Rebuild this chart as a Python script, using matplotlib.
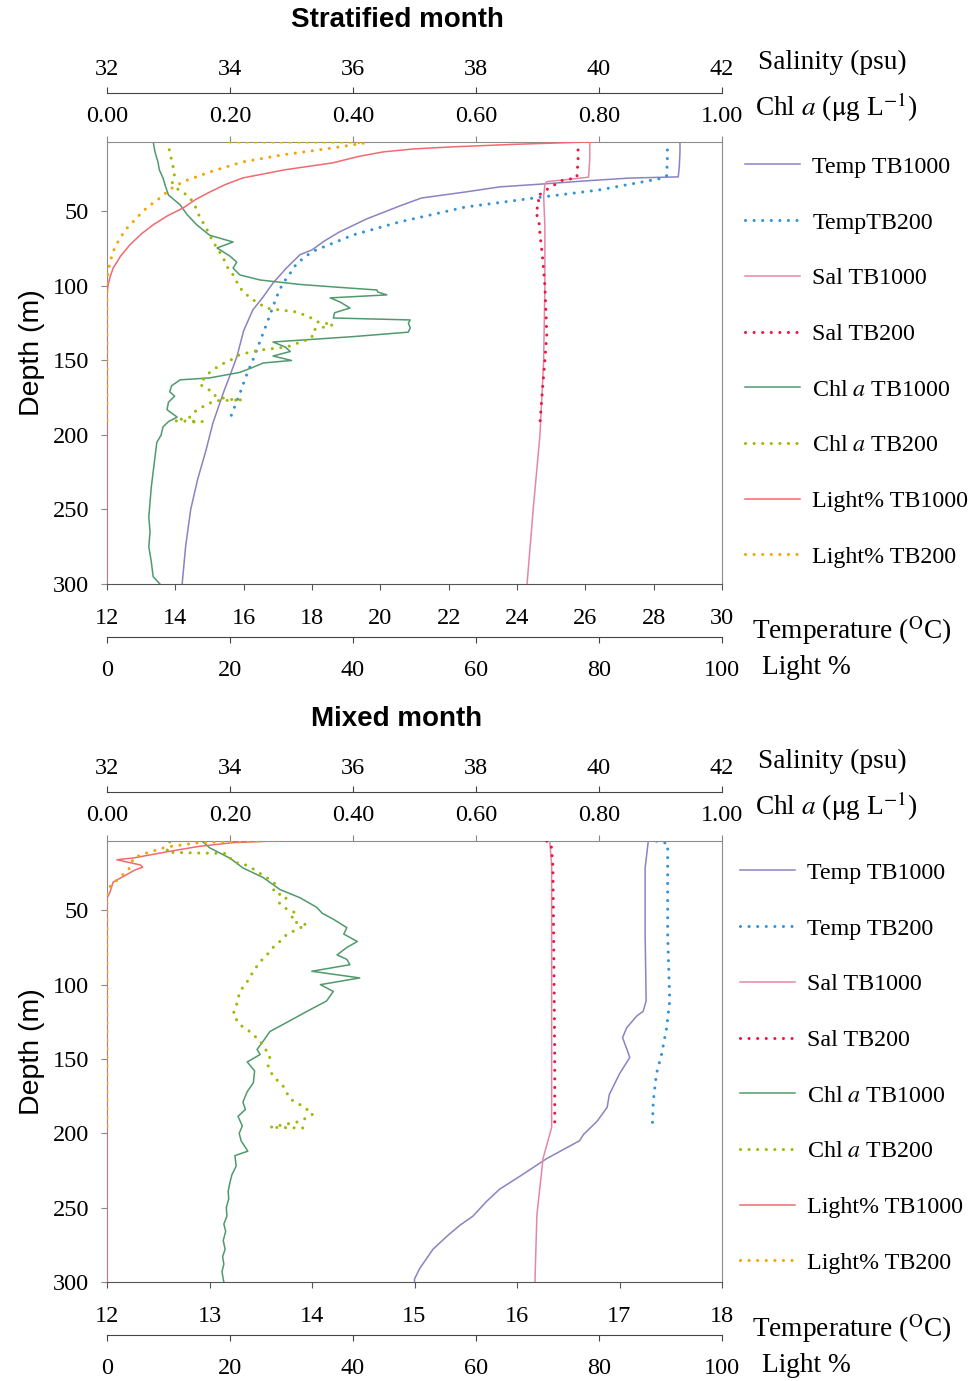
import matplotlib
matplotlib.use("Agg")
import matplotlib.pyplot as plt

plt.rcParams['font.family'] = ['Liberation Serif', 'DejaVu Serif']
plt.rcParams['mathtext.fontset'] = 'stix'

# ---------------- Stratified month data ----------------
s_temp1000_depth = [3, 10, 20, 26.8, 27.6, 29.5, 31.5, 33.5, 36.9, 41, 46.3, 55, 63.8, 70, 75.8, 79, 88, 98, 108, 116, 130, 147.6, 160, 172, 182, 192, 210, 230, 250, 275, 300]
s_temp1000 = [28.77, 28.77, 28.75, 28.72, 27.3, 26.0, 24.8, 23.5, 22.5, 21.2, 20.57, 19.6, 18.8, 18.35, 18.0, 17.65, 17.25, 16.86, 16.55, 16.27, 16.0, 15.8, 15.6, 15.4, 15.25, 15.1, 14.9, 14.65, 14.45, 14.3, 14.2]

s_temp200_depth = [3, 15, 26, 27.5, 35.6, 41, 47, 57, 65.8, 77, 85, 94.6, 98, 108, 119.5, 125, 137, 149.7, 160, 172, 182, 192]
s_temp200 = [28.4, 28.4, 28.38, 28.3, 26.4, 24.5, 22.5, 20.57, 19.2, 18.0, 17.55, 17.27, 17.15, 16.95, 16.77, 16.68, 16.48, 16.27, 16.08, 15.89, 15.72, 15.55]

s_sal1000_depth = [3, 15, 27, 28.5, 30, 32, 40, 60, 100, 150, 200, 250, 300]
s_sal1000 = [39.85, 39.85, 39.83, 39.5, 39.15, 39.12, 39.1, 39.12, 39.12, 39.1, 39.04, 38.93, 38.83]

s_sal200_depth = [3, 15, 27.5, 29, 34, 40, 45, 50, 55, 65, 80, 100, 120, 133, 150, 170, 192]
s_sal200 = [39.66, 39.66, 39.64, 39.41, 39.2, 38.99, 39.04, 38.96, 39.02, 39.04, 39.08, 39.12, 39.14, 39.15, 39.12, 39.08, 39.04]

s_chl1000_depth = [3, 10, 17, 22, 27.5, 33, 39, 45.6, 52, 59, 66, 70.5, 74.5, 80, 84, 88, 92.6, 96, 99, 101, 102.7, 104, 106, 108, 111, 114.8, 118, 121.5, 122.8, 125, 128, 131, 134, 137.6, 141, 144, 147, 150, 151.7, 155, 158, 161.7, 163, 167, 171, 174, 178, 183, 188, 191, 194.6, 200, 205, 215, 225, 235, 245, 255, 265, 275, 285, 295, 300]
s_chl1000 = [0.075, 0.078, 0.083, 0.085, 0.091, 0.095, 0.10, 0.119, 0.13, 0.146, 0.167, 0.205, 0.179, 0.20, 0.211, 0.205, 0.216, 0.249, 0.314, 0.38, 0.439, 0.44, 0.455, 0.363, 0.38, 0.395, 0.37, 0.368, 0.493, 0.49, 0.493, 0.49, 0.40, 0.27, 0.29, 0.298, 0.27, 0.3, 0.254, 0.235, 0.216, 0.167, 0.119, 0.105, 0.102, 0.11, 0.10, 0.0976, 0.114, 0.10, 0.091, 0.088, 0.081, 0.078, 0.075, 0.072, 0.07, 0.068, 0.07, 0.068, 0.072, 0.075, 0.086]

s_chl200_depth = [3, 10, 19, 25, 30, 35, 39, 43.6, 48, 54, 60, 66, 72, 81, 87, 92.6, 98, 104, 110, 115, 117.5, 121, 124, 126, 129.5, 135, 141, 143, 146, 150, 153, 158, 162, 166, 170, 173, 176, 176.5, 177, 181, 185, 188, 190.5, 191, 191.5]
s_chl200 = [0.098, 0.102, 0.107, 0.11, 0.105, 0.115, 0.13, 0.14, 0.145, 0.151, 0.16, 0.167, 0.175, 0.189, 0.195, 0.205, 0.212, 0.221, 0.24, 0.26, 0.309, 0.33, 0.341, 0.368, 0.335, 0.333, 0.292, 0.249, 0.216, 0.2, 0.184, 0.167, 0.158, 0.151, 0.167, 0.172, 0.195, 0.22, 0.175, 0.156, 0.14, 0.135, 0.11, 0.155, 0.13]

s_light1000_depth = [3.3, 5, 6.7, 8, 10, 13, 17.4, 22, 27.5, 32, 37, 42, 47.6, 53, 59, 65, 72.5, 80, 88, 94, 99, 105, 150, 200, 250, 300]
s_light1000 = [79, 66, 56, 50, 45, 41, 36.7, 29, 22.1, 19.2, 16.7, 14.4, 12.4, 9.8, 7.5, 5.6, 3.7, 2.2, 1.0, 0.5, 0.2, 0, 0, 0, 0, 0]

s_light200_depth = [3.4, 3.5, 4, 7.4, 12, 16.8, 23.5, 30, 35, 41, 47, 54, 61, 67.8, 76, 84, 90, 96, 150, 192]
s_light200 = [20, 40, 42, 36.7, 28.6, 22, 16.7, 12.4, 10.3, 8.6, 6.6, 4.9, 3.3, 2.1, 1.1, 0.5, 0.2, 0, 0, 0]

# ---------------- Mixed month data ----------------
m_temp1000_depth = [4, 21.5, 66, 111, 118, 121, 129, 135.6, 145, 149, 160, 174, 182.5, 192, 200.7, 205, 217, 228.8, 237.6, 246, 255.7, 262, 269, 278, 291, 298, 300]
m_temp1000 = [17.28, 17.25, 17.25, 17.26, 17.23, 17.17, 17.07, 17.03, 17.08, 17.1, 17.0, 16.9, 16.88, 16.78, 16.65, 16.61, 16.29, 16.03, 15.83, 15.7, 15.57, 15.44, 15.32, 15.18, 15.05, 15.0, 15.0]

m_temp200_depth = [3.5, 4.5, 5, 30, 66, 111, 129, 147, 160, 178, 196]
m_temp200 = [17.36, 17.43, 17.47, 17.47, 17.47, 17.49, 17.46, 17.41, 17.36, 17.33, 17.32]

m_sal1000_depth = [3.5, 20, 100, 150, 196, 217, 255, 298, 300]
m_sal1000 = [39.2, 39.23, 39.23, 39.23, 39.23, 39.09, 38.99, 38.96, 38.96]

m_sal200_depth = [3.5, 5, 20, 60, 100, 150, 196]
m_sal200 = [39.15, 39.22, 39.25, 39.26, 39.27, 39.28, 39.28]

m_chl1000_depth = [4, 8, 15, 21.5, 28, 36, 41.6, 48, 52, 56, 61.7, 66, 71, 75, 80, 83, 86.6, 91, 95.5, 100, 104.6, 111, 118, 125.5, 131.5, 138, 143.6, 147, 152, 158, 166, 172, 179, 184, 188.6, 195, 200, 205, 212, 215, 222, 228, 233, 239, 244, 250, 255.7, 261, 266, 272, 278, 283, 288, 293, 298, 300]
m_chl1000 = [0.156, 0.167, 0.2, 0.221, 0.254, 0.281, 0.314, 0.341, 0.35, 0.368, 0.39, 0.385, 0.407, 0.39, 0.374, 0.39, 0.395, 0.333, 0.411, 0.347, 0.368, 0.357, 0.325, 0.292, 0.265, 0.254, 0.244, 0.249, 0.228, 0.24, 0.238, 0.228, 0.221, 0.225, 0.213, 0.22, 0.215, 0.218, 0.229, 0.208, 0.21, 0.203, 0.2, 0.197, 0.198, 0.194, 0.195, 0.19, 0.193, 0.189, 0.192, 0.188, 0.19, 0.187, 0.189, 0.19]

m_chl200_depth = [4, 11, 11.5, 11.8, 17.4, 20, 24, 28, 33, 37, 41.6, 45, 48, 52, 55, 57.7, 59.7, 63, 66.4, 71, 75, 80, 84.6, 91, 98, 104.6, 113, 120, 127, 131.5, 138, 145, 148, 155, 161.6, 168, 177, 182, 187, 192, 196, 196.5]
m_chl200 = [0.102, 0.097, 0.15, 0.195, 0.205, 0.23, 0.244, 0.26, 0.276, 0.27, 0.292, 0.28, 0.287, 0.308, 0.3, 0.303, 0.325, 0.308, 0.292, 0.281, 0.27, 0.26, 0.249, 0.238, 0.228, 0.216, 0.211, 0.205, 0.216, 0.232, 0.249, 0.26, 0.265, 0.262, 0.27, 0.286, 0.298, 0.319, 0.335, 0.314, 0.265, 0.33]

m_light1000_depth = [3.3, 4.5, 7, 10.7, 14.8, 16, 19.5, 21, 23, 26, 31, 37.6, 42, 100, 200, 300]
m_light1000 = [27.6, 20.5, 15, 9.7, 4.3, 1.6, 5.4, 5.8, 4.5, 3.2, 1.0, 0.5, 0, 0, 0, 0]

m_light200_depth = [3.3, 4.5, 7.4, 12, 14.8, 21.5, 28, 34, 40, 100, 196]
m_light200 = [24.4, 15, 9.7, 6, 4.3, 3.7, 2.1, 0.5, 0, 0, 0]

legend_labels_1 = ["Temp TB1000", "TempTB200", "Sal TB1000", "Sal TB200",
                   "Chl $\\it{a}$ TB1000", "Chl $\\it{a}$ TB200", "Light% TB1000", "Light% TB200"]
legend_labels_2 = ["Temp TB1000", "Temp TB200", "Sal TB1000", "Sal TB200",
                   "Chl $\\it{a}$ TB1000", "Chl $\\it{a}$ TB200", "Light% TB1000", "Light% TB200"]

sal_ticks = [32, 34, 36, 38, 40, 42]
chl_ticks = [0.0, 0.2, 0.4, 0.6, 0.8, 1.0]
light_ticks = [0, 20, 40, 60, 80, 100]
depth_ticks = [50, 100, 150, 200, 250, 300]
temp_ticks_1 = [12, 14, 16, 18, 20, 22, 24, 26, 28, 30]
temp_ticks_2 = [12, 13, 14, 15, 16, 17, 18]

C_TEMP1000 = '#8b82c2'
C_TEMP200 = '#2f93dc'
C_SAL1000 = '#e487a6'
C_SAL200 = '#e8173c'
C_CHL1000 = '#4f9a6c'
C_CHL200 = '#9db800'
C_LIGHT1000 = '#f06a70'
C_LIGHT200 = '#f5a300'

W, H = 972, 1381
fig = plt.figure(figsize=(W / 100, H / 100), dpi=100)

FS = 17.5     # tick labels
LFS = 17.3    # legend
AFS = 19.7    # axis labels
DOT = dict(linestyle=(0, (0.01, 2.8)), linewidth=2.2, dash_capstyle='round')
SOL = dict(linestyle='-', linewidth=1.1)


def fx(x):
    return x / W


def fy(y):
    return 1 - y / H


def panel(top_px, bot_px, temp_lim, temp_ticks, data, labels, title, leg_x, leg_y):
    rect = [fx(107), fy(bot_px), fx(722) - fx(107), fy(top_px) - fy(bot_px)]
    ax = fig.add_axes(rect)
    ax.set_xlim(*temp_lim)
    ax.set_ylim(300, 3.4)
    ax.set_xticks(temp_ticks)
    ax.set_xticklabels([str(t) for t in temp_ticks])
    ax.set_yticks(depth_ticks)
    ax.tick_params(axis='x', direction='out', length=4, pad=13, labelsize=FS, color='#555555')
    ax.tick_params(axis='y', direction='out', length=4, pad=9, labelsize=FS, color='#888888')
    for s in ['left', 'right']:
        ax.spines[s].set_color('#8c8c8c')
    ax.spines['top'].set_visible(False)
    ax.spines['bottom'].set_color('#555555')

    ax_chl = ax.twiny()
    ax_chl.set_xlim(0, 1)
    ax_chl.set_xticks(chl_ticks)
    ax_chl.set_xticklabels(['%.2f' % t for t in chl_ticks])
    ax_chl.tick_params(axis='x', direction='out', length=4, pad=7, labelsize=FS, color='#888888')
    for s in ['left', 'right', 'bottom']:
        ax_chl.spines[s].set_visible(False)
    ax_chl.spines['top'].set_color('#8c8c8c')

    ax_sal = ax.twiny()
    ax_sal.set_xlim(32, 42)
    ax_sal.set_xticks(sal_ticks)
    ax_sal.set_xticklabels([str(t) for t in sal_ticks])
    ax_sal.spines['top'].set_position(('outward', 35))
    ax_sal.tick_params(axis='x', direction='out', length=4, pad=6, labelsize=FS, color='#444444')
    for s in ['left', 'right', 'bottom']:
        ax_sal.spines[s].set_visible(False)
    ax_sal.spines['top'].set_color('#444444')

    ax_light = ax.twiny()
    ax_light.xaxis.set_ticks_position('bottom')
    ax_light.xaxis.set_label_position('bottom')
    ax_light.set_xlim(0, 100)
    ax_light.set_xticks(light_ticks)
    ax_light.set_xticklabels([str(t) for t in light_ticks])
    ax_light.spines['bottom'].set_position(('outward', 38))
    ax_light.tick_params(axis='x', direction='out', length=4, pad=13, labelsize=FS, color='#444444')
    for s in ['left', 'right', 'top']:
        ax_light.spines[s].set_visible(False)
    ax_light.spines['bottom'].set_color('#444444')

    (t1d, t1), (t2d, t2), (s1d, s1), (s2d, s2), (c1d, c1), (c2d, c2), (l1d, l1), (l2d, l2) = data
    h = []
    h += ax.plot(t1, t1d, color=C_TEMP1000, **SOL)
    h += ax.plot(t2, t2d, color=C_TEMP200, **DOT)
    h += ax_sal.plot(s1, s1d, color=C_SAL1000, **SOL)
    h += ax_sal.plot(s2, s2d, color=C_SAL200, **DOT)
    h += ax_chl.plot(c1, c1d, color=C_CHL1000, **SOL)
    h += ax_chl.plot(c2, c2d, color=C_CHL200, **DOT)
    h += ax_light.plot(l1, l1d, color=C_LIGHT1000, **SOL)
    h += ax_light.plot(l2, l2d, color=C_LIGHT200, **DOT)

    fig.legend(h, labels, loc='upper left', bbox_to_anchor=(fx(leg_x), fy(leg_y)),
               frameon=False, fontsize=LFS, labelspacing=1.41, handlelength=2.3,
               handletextpad=0.5, borderpad=0, borderaxespad=0)

    fig.text(fx(397), fy(top_px - 122), title, ha='center', va='center',
             fontsize=20, fontweight='bold', family=['Liberation Sans', 'DejaVu Sans'])
    fig.text(fx(32), fy((top_px + bot_px) / 2 - 10), 'Depth (m)', rotation=90, ha='center', va='center',
             fontsize=20.5, family=['Liberation Sans', 'DejaVu Sans'])
    fig.text(fx(758), fy(top_px - 80), 'Salinity (psu)', ha='left', va='center', fontsize=AFS)
    fig.text(fx(755), fy(top_px - 35), 'Chl $\\it{a}$ ($\\mathrm{\\mu}$g L$^{-1}$)', ha='left', va='center', fontsize=AFS)
    fig.text(fx(752), fy(bot_px + 47), 'Temperature ($^{\\mathrm{O}}$C)', ha='left', va='center', fontsize=AFS)
    fig.text(fx(762), fy(bot_px + 84), 'Light %', ha='left', va='center', fontsize=AFS)
    return ax


panel(142, 584, (12, 30), temp_ticks_1,
      [(s_temp1000_depth, s_temp1000), (s_temp200_depth, s_temp200),
       (s_sal1000_depth, s_sal1000), (s_sal200_depth, s_sal200),
       (s_chl1000_depth, s_chl1000), (s_chl200_depth, s_chl200),
       (s_light1000_depth, s_light1000), (s_light200_depth, s_light200)],
      legend_labels_1, 'Stratified month', 745, 156)

panel(841, 1282, (12, 18), temp_ticks_2,
      [(m_temp1000_depth, m_temp1000), (m_temp200_depth, m_temp200),
       (m_sal1000_depth, m_sal1000), (m_sal200_depth, m_sal200),
       (m_chl1000_depth, m_chl1000), (m_chl200_depth, m_chl200),
       (m_light1000_depth, m_light1000), (m_light200_depth, m_light200)],
      legend_labels_2, 'Mixed month', 740, 862)

fig.savefig('out.png', dpi=100)
